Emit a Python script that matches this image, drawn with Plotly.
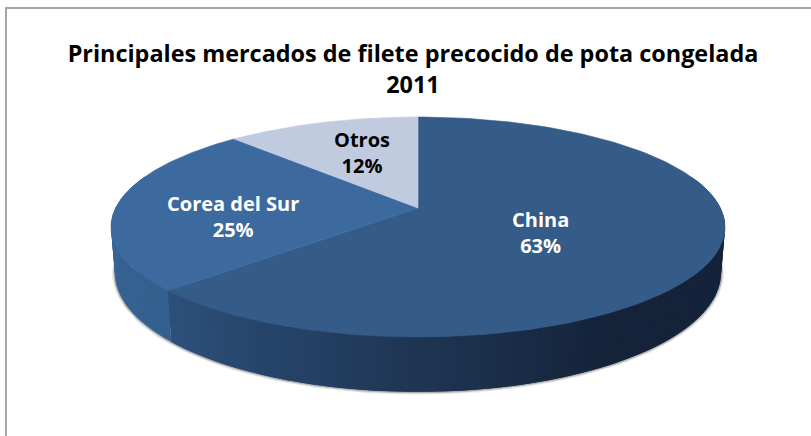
import numpy as np
import plotly.graph_objects as go

# Data (drawn clockwise from 12 o'clock)
categories = ["China", "Corea del Sur", "Otros"]
shares = [63, 25, 12]
title_lines = ["Principales mercados de filete precocido de pota congelada", "2011"]

# Styles
top_colors = ["#355c89", "#3d6a9e", "#c0cbe0"]
label_colors = ["#ffffff", "#ffffff", "#000000"]
label_anchor = [(540, 232), (233, 216), (362, 152)]

# Perspective projection of the pie disc into the plot's coordinates
CX, K = 418.0, 0.1727
TOP = dict(y0=208.0, A=302.4, B=106.7)
BOTTOM = dict(y0=252.0, A=298.5, B=115.7)


def project(theta_deg, radius, plane):
    t = np.radians(theta_deg)
    u, v = radius * np.sin(t), -radius * np.cos(t)
    d = 1 - K * v
    return CX + plane["A"] * u / d, plane["y0"] + plane["B"] * v / d


edges = np.concatenate([[0], np.cumsum(shares)]) / sum(shares) * 360.0


def wall_color(theta, junction):
    if theta >= junction:  # lit left side
        stops = [(junction, "#33608e"), (285, "#3b6899")]
    else:
        stops = [(75, "#14233a"), (148, "#14233a"), (180, "#1f3653"),
                 (205, "#27456b"), (junction, "#2e517c")]
    xs = [s[0] for s in stops]
    rgb = [[int(s[1][i:i + 2], 16) for i in (1, 3, 5)] for s in stops]
    return "rgb(%d,%d,%d)" % tuple(np.interp(theta, xs, [c[i] for c in rgb]) for i in range(3))


def wall_polygon(a, b):
    arc = np.linspace(a, b, 6)
    x1, y1 = project(arc, 1.0, TOP)
    x2, y2 = project(arc[::-1], 1.0, BOTTOM)
    return np.r_[x1, x2, x1[0]], np.r_[y1, y2, y1[0]]


fig = go.Figure()

# soft shadow round the lower edge
th = np.linspace(72, 288, 200)
sx, sy = project(th, 1.0, BOTTOM)
for w, a in [(6, 0.10), (4, 0.16), (2.5, 0.25)]:
    fig.add_trace(go.Scatter(x=sx, y=sy, mode="lines", hoverinfo="skip", showlegend=False,
                             line=dict(color=f"rgba(70,70,70,{a})", width=w)))

# side wall: a base, then overlapping facets so that no seams show
junction = edges[1]
bx, by = wall_polygon(72, 288)
fig.add_trace(go.Scatter(x=bx, y=by, mode="lines", fill="toself", fillcolor="#203955",
                         line=dict(color="#203955", width=0), hoverinfo="skip", showlegend=False))
step = 1.5
facets = np.concatenate([np.arange(72, junction, step), [junction],
                         np.arange(junction + step, 288, step), [288]])
for a, b in zip(facets[:-1], facets[1:]):
    end = min(b + step, junction) if b <= junction else min(b + step, 288)
    col = wall_color((a + b) / 2, junction)
    x, y = wall_polygon(a, end)
    fig.add_trace(go.Scatter(x=x, y=y, mode="lines", fill="toself", fillcolor=col,
                             line=dict(color=col, width=0), hoverinfo="skip", showlegend=False))

# top faces
ax0, ay0 = project(0.0, 0.0, TOP)
for name, start, end, col in zip(categories, edges[:-1], edges[1:], top_colors):
    arc = np.linspace(start, end, 160)
    x, y = project(arc, 1.0, TOP)
    fig.add_trace(go.Scatter(x=np.r_[ax0, x, ax0], y=np.r_[ay0, y, ay0], mode="lines",
                             fill="toself", fillcolor=col, line=dict(color=col, width=0.6),
                             name=name, hoverinfo="name", showlegend=False))

# data labels
for name, val, (lx, ly), col in zip(categories, shares, label_anchor, label_colors):
    fig.add_annotation(x=lx, y=ly, text=f"{name}<br>{val}%", showarrow=False, align="center",
                       font=dict(family="Open Sans", size=20, color=col, weight=700))

fig.update_layout(
    width=811, height=436, margin=dict(l=0, r=0, t=0, b=0),
    paper_bgcolor="white", plot_bgcolor="white", showlegend=False,
    title=dict(text="<br>".join(title_lines), x=413 / 811, xanchor="center", y=0.857,
               yanchor="middle", font=dict(family="Open Sans", size=23.4, color="black", weight=700)),
    xaxis=dict(range=[0, 811], visible=False, fixedrange=True),
    yaxis=dict(range=[436, 0], visible=False, fixedrange=True),
    shapes=[dict(type="line", xref="x", yref="y", x0=6, x1=6, y0=8, y1=436,
                 line=dict(color="#a6a6a6", width=2)),
            dict(type="line", xref="x", yref="y", x0=5, x1=811, y0=8, y1=8,
                 line=dict(color="#a6a6a6", width=2))],
)

fig.write_html("out.html", config={"displayModeBar": False},
               post_script="document.body.style.margin='0';")
